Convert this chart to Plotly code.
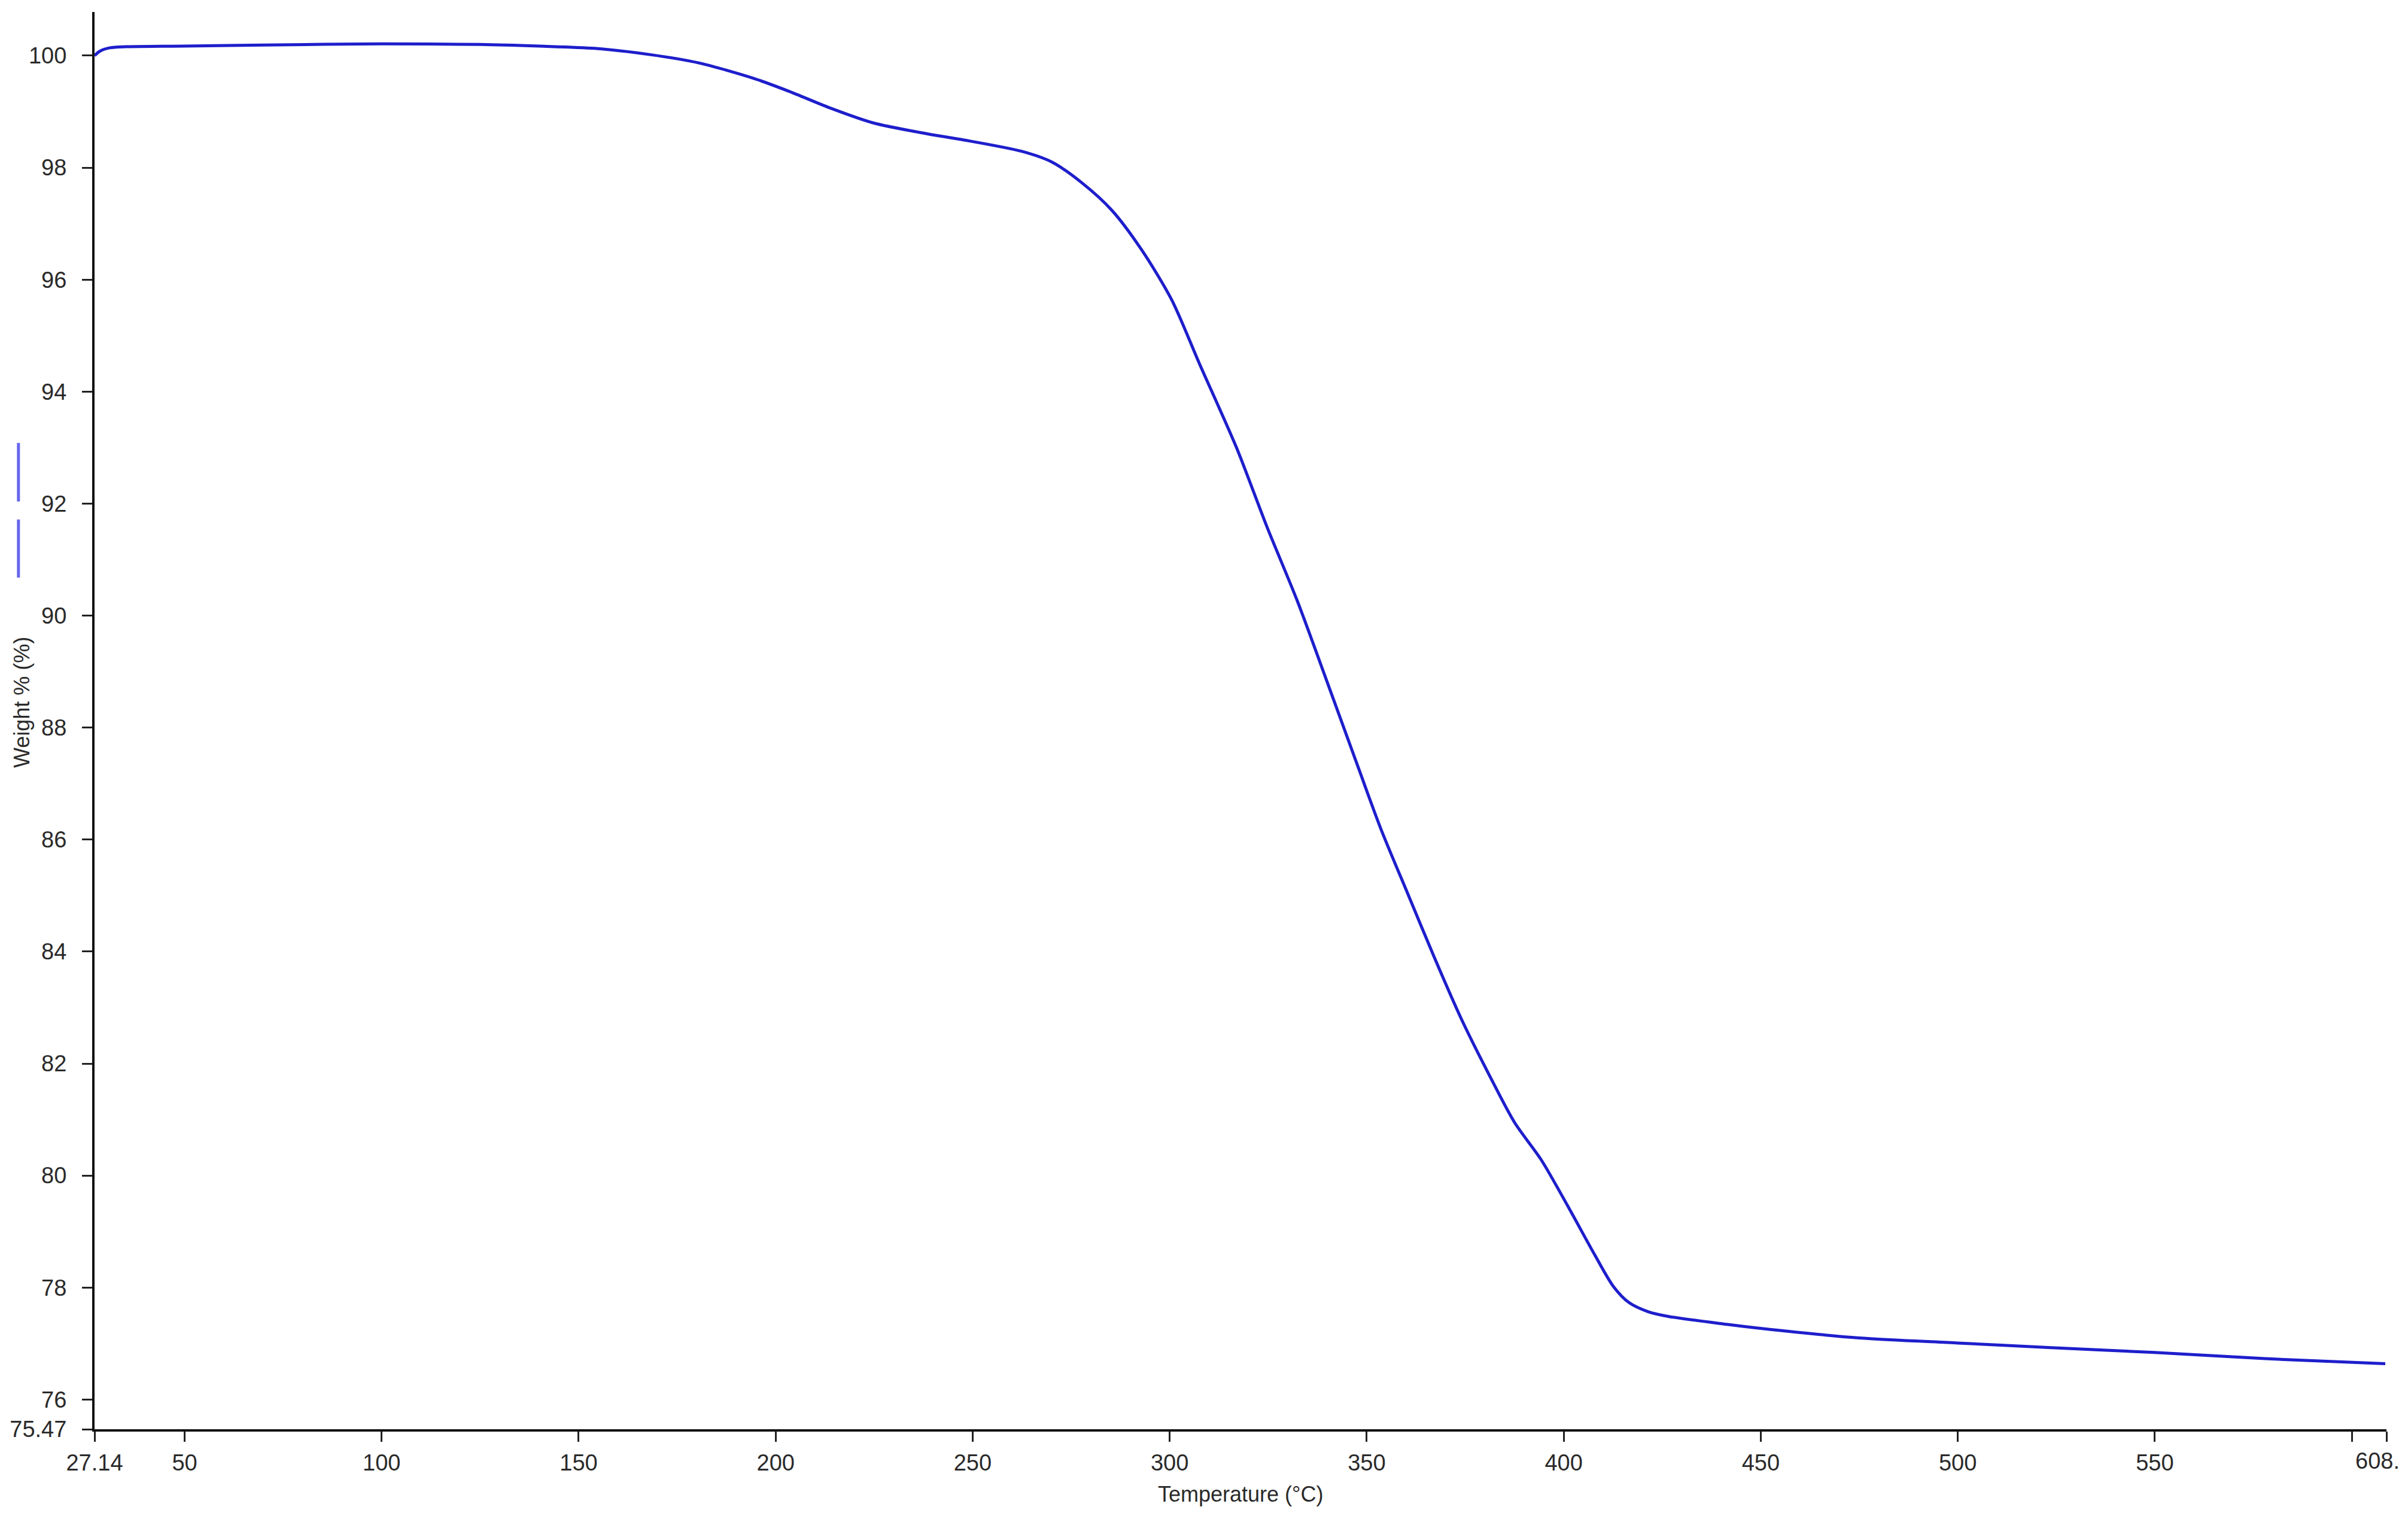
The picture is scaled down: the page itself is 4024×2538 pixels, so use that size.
import plotly.graph_objects as go

# ---- data (TGA curve) ----
temperature_c = [27.14, 28.5, 31, 35, 50, 70, 100, 125, 140, 154, 168, 180.5, 194.6,
                 203.5, 214, 224.7, 238.8, 247.3, 262.5, 270.1, 277.7, 285.3, 292.9,
                 300.5, 307.6, 316.9, 324.6, 332.4, 340.3, 348.0, 353.6, 360.5, 367.2,
                 374.0, 380.7, 387.5, 394.3, 401.0, 407.9, 412.6, 416.6, 421.4, 426.9,
                 441.7, 450, 475, 500, 523, 550, 578, 608.5]
weight_pct = [100.0, 100.08, 100.14, 100.16, 100.17, 100.19, 100.21, 100.20, 100.17,
              100.13, 100.02, 99.87, 99.59, 99.36, 99.06, 98.80, 98.60, 98.50, 98.29,
              98.10, 97.73, 97.24, 96.53, 95.64, 94.49, 93.01, 91.60, 90.26, 88.75,
              87.26, 86.19, 85.02, 83.89, 82.80, 81.85, 80.95, 80.28, 79.46, 78.58,
              78.02, 77.73, 77.57, 77.48, 77.34, 77.27, 77.10, 77.01, 76.93, 76.84,
              76.73, 76.64]

x_range = [27.14, 608.8]
y_range = [75.47, 100.78]
x_tickvals = [27.14, 50, 100, 150, 200, 250, 300, 350, 400, 450, 500, 550, 600, 608.8]
x_ticktext = ["27.14", "50", "100", "150", "200", "250", "300", "350", "400", "450",
              "500", "550", "", ""]
x_end_label = "608."
y_tickvals = [75.47, 76, 78, 80, 82, 84, 86, 88, 90, 92, 94, 96, 98, 100]
y_ticktext = ["75.47", "76", "78", "80", "82", "84", "86", "88", "90", "92", "94",
              "96", "98", "100"]

x_title = "Temperature (°C)"
y_title = "Weight % (%)"

FONT = "Liberation Sans, Arial, sans-serif"
TXT = "#2a2a2a"

fig = go.Figure()
fig.add_trace(go.Scatter(
    x=temperature_c, y=weight_pct, mode="lines",
    line=dict(color="#1e1ecc", width=5, shape="spline", smoothing=0.8),
    showlegend=False, hoverinfo="x+y",
))

axis_common = dict(
    showgrid=False, zeroline=False, showline=True, linecolor="#111111", linewidth=4,
    ticks="outside", ticklen=17, tickwidth=3, tickcolor="#222222",
    tickfont=dict(family=FONT, size=38, color=TXT), automargin=False, mirror=False,
)

fig.update_xaxes(range=x_range, tickmode="array", tickvals=x_tickvals,
                 ticktext=x_ticktext, ticklabelstandoff=2, **axis_common)
fig.update_yaxes(range=y_range, tickmode="array", tickvals=y_tickvals,
                 ticktext=y_ticktext, ticklabelstandoff=18, **axis_common)

fig.update_layout(
    width=4024, height=2538,
    margin=dict(l=150, r=44, t=12, b=158, pad=0),
    paper_bgcolor="white", plot_bgcolor="white",
    font=dict(family=FONT, color=TXT),
    annotations=[
        dict(text=x_end_label, xref="x", yref="paper", x=x_tickvals[-1], y=-0.0222,
             xanchor="right", yanchor="middle", xshift=24, showarrow=False,
             font=dict(family=FONT, size=38, color=TXT)),
        dict(text=x_title, xref="paper", yref="paper", x=0.5, y=-0.046,
             xanchor="center", yanchor="middle", showarrow=False,
             font=dict(family=FONT, size=36, color=TXT)),
        dict(text=y_title, xref="paper", yref="paper", x=-0.0319, y=0.513,
             xanchor="center", yanchor="middle", textangle=-90, showarrow=False,
             font=dict(family=FONT, size=36, color=TXT)),
    ],
    shapes=[
        dict(type="line", xref="paper", yref="paper", x0=-0.0332, x1=-0.0332,
             y0=0.6546, y1=0.6959, line=dict(color="#6666ee", width=5)),
        dict(type="line", xref="paper", yref="paper", x0=-0.0332, x1=-0.0332,
             y0=0.6009, y1=0.6419, line=dict(color="#6666ee", width=5)),
    ],
)

fig.write_html("out.html")
